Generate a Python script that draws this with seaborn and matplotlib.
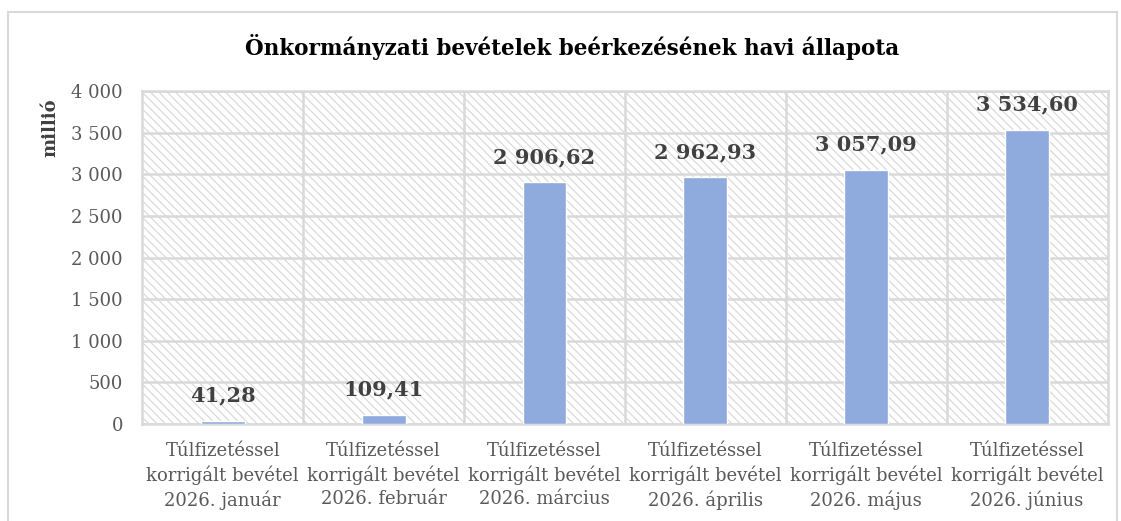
import matplotlib
matplotlib.use("Agg")
import matplotlib.pyplot as plt
import matplotlib.ticker as mticker
from matplotlib.patches import Rectangle
import seaborn as sns
import pandas as pd

# data
months = ["január", "február", "március", "április", "május", "június"]
values = [41.28, 109.41, 2906.62, 2962.93, 3057.09, 3534.60]
labels = ["Túlfizetéssel\nkorrigált bevétel\n2026. " + m for m in months]

df = pd.DataFrame({"kategoria": labels, "ertek": values})

sns.set_style("white")
plt.rcParams["font.family"] = ["DejaVu Serif", "DejaVu Sans"]
plt.rcParams["hatch.linewidth"] = 0.8
plt.rcParams["hatch.color"] = "#D6D6D6"

fig = plt.figure(figsize=(11.21, 5.21), dpi=100)
ax = fig.add_axes([0.127, 0.186, 0.861, 0.639])

# outer chart border
fig.patches.append(Rectangle((8 / 1121, -0.1), 1109 / 1121, 1.1 - 12 / 521,
                             transform=fig.transFigure, fill=False,
                             edgecolor="#D9D9D9", linewidth=1.5, zorder=0))

# hatched plot area background
ax.add_patch(Rectangle((0, 0), 1, 1, transform=ax.transAxes, facecolor="white",
                       edgecolor="#D6D6D6", hatch="\\\\\\\\", linewidth=0, zorder=0))

sns.barplot(data=df, x="kategoria", y="ertek", color="#8FAADC", width=0.273,
            saturation=1, ax=ax, zorder=3)

ax.set_ylim(0, 4000)
ax.set_xlim(-0.5, 5.5)
ax.yaxis.set_major_locator(mticker.MultipleLocator(500))
ax.yaxis.set_major_formatter(mticker.FuncFormatter(lambda v, p: f"{int(v):,}".replace(",", " ")))
ax.set_xticks([i + 0.5 for i in range(5)], minor=True)
ax.grid(axis="y", which="major", color="#D9D9D9", linewidth=1.8, zorder=1)
ax.grid(axis="x", which="minor", color="#D9D9D9", linewidth=1.8, zorder=1)
ax.grid(axis="x", which="major", visible=False)
ax.set_axisbelow(True)

for s in ax.spines.values():
    s.set_color("#D9D9D9")
    s.set_linewidth(1.8)

ax.tick_params(axis="both", which="both", length=0, colors="#595959", labelsize=13)
ax.tick_params(axis="x", pad=13)
ax.tick_params(axis="y", pad=14)
for t in ax.get_xticklabels():
    t.set_linespacing(1.35)

for i, v in enumerate(values):
    txt = f"{v:,.2f}".replace(",", " ").replace(".", ",")
    ax.annotate(txt, (i, v), xytext=(0, 11), textcoords="offset points",
                ha="center", va="bottom", fontsize=15, fontweight="bold",
                color="#404040", zorder=4)

ax.set_xlabel("")
ax.set_ylabel("")
fig.text(50 / 1121, 1 - 128 / 521, "millió", rotation=90, ha="center", va="center",
         fontsize=13, fontweight="bold", color="#404040")
fig.text(0.51, 0.91, "Önkormányzati bevételek beérkezésének havi állapota",
         ha="center", va="center", fontsize=15.5, fontweight="bold", color="black")

fig.savefig("out.png", dpi=100)
